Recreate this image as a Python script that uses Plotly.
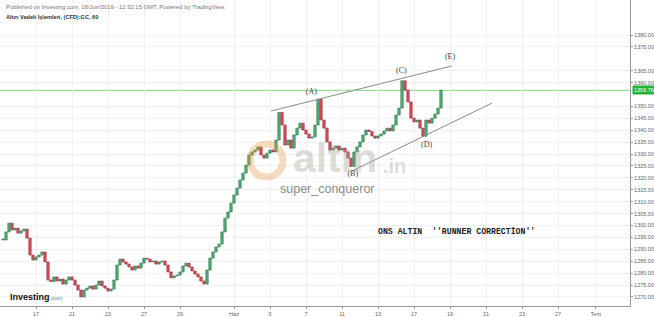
import plotly.graph_objects as go

# ---- data ----
closes = [
    1293.9, 1297.3, 1301.0, 1298.1, 1298.9, 1296.8, 1297.7, 1298.5, 1294.7, 1287.6,
    1285.5, 1286.8, 1287.6, 1288.9, 1284.7, 1277.1, 1276.5, 1278.4, 1276.7, 1277.5,
    1275.4, 1277.1, 1278.4, 1277.1, 1275.0, 1272.9, 1270.0, 1272.9, 1273.7, 1274.6,
    1273.3, 1275.0, 1276.7, 1274.6, 1273.7, 1272.5, 1273.3, 1277.1, 1283.4, 1285.9,
    1284.7, 1283.8, 1282.6, 1281.3, 1283.0, 1282.1, 1284.2, 1286.3, 1285.9, 1284.7,
    1285.1, 1283.8, 1284.7, 1285.1, 1283.4, 1280.5, 1278.0, 1278.8, 1279.2, 1280.5,
    1283.0, 1284.2, 1282.6, 1280.9, 1279.6, 1278.4, 1276.7, 1275.4, 1281.3, 1286.3,
    1288.9, 1291.0, 1292.2, 1297.3, 1303.1, 1305.7, 1309.4, 1312.8, 1315.7, 1319.1,
    1322.0, 1325.4, 1329.6, 1330.9, 1331.7, 1333.0, 1329.6, 1328.3, 1330.4, 1331.7,
    1330.9, 1335.9, 1347.5, 1342.2, 1333.8, 1335.9, 1332.5, 1338.0, 1340.9, 1343.0,
    1340.1, 1338.4, 1336.7, 1337.2, 1342.2, 1353.0, 1344.3, 1340.9, 1335.1, 1331.7,
    1332.5, 1333.4, 1331.7, 1332.5, 1330.9, 1328.3, 1324.8, 1330.9, 1333.0, 1335.1,
    1338.0, 1340.1, 1339.5, 1337.6, 1336.7, 1337.6, 1338.4, 1339.7, 1340.9, 1339.7,
    1342.2, 1346.4, 1349.3, 1360.8, 1356.9, 1351.9, 1345.1, 1343.5, 1344.3, 1340.9,
    1337.5, 1344.3, 1343.0, 1345.1, 1346.8, 1349.3, 1356.76,
]
start_day = -11 / 6
bars_per_day = 6

tick_days = [0, 2, 4, 6, 8, 11, 13, 15, 17, 19, 21, 23, 25, 27, 29, 31.1]
tick_labels = ["17", "21", "23", "27", "29", "Haz", "5", "7", "11", "13",
               "17", "19", "21", "23", "27", "Tem"]

price_ticks = [1380, 1375, 1365, 1360, 1350, 1345, 1340, 1335, 1330, 1325,
               1320, 1315, 1310, 1305, 1300, 1295, 1290, 1285, 1280, 1275, 1270]
current_price = 1356.76

upper_x = [13.06, 23.1]
upper_y = [1348.1, 1367.0]
lower_x = [17.56, 25.33]
lower_y = [1322.9, 1351.4]

wave_labels = ["(A)", "(B)", "(C)", "(D)", "(E)"]
wave_x = [15.3, 17.6, 20.3, 21.7, 23.0]
wave_y = [1356.1, 1321.6, 1364.9, 1333.8, 1370.8]

# ---- derived candle bodies ----
days = [start_day + i / bars_per_day for i in range(len(closes))]
opens = [closes[0]] + closes[:-1]
body_low = [min(o, c) for o, c in zip(opens, closes)]
body_h = [max(abs(c - o), 0.4) for o, c in zip(opens, closes)]
up = [c >= o for o, c in zip(opens, closes)]
fill = ["#4fb27a" if u else "#e0505c" for u in up]
edge = ["#2a6e44" if u else "#8a2a30" for u in up]

fig = go.Figure()
fig.add_trace(go.Bar(
    x=days, y=body_h, base=body_low, width=0.8 / bars_per_day,
    marker=dict(color=fill, line=dict(color=edge, width=0.6)),
    showlegend=False, hoverinfo="skip",
))
fig.add_trace(go.Scatter(x=upper_x, y=upper_y, mode="lines",
                         line=dict(color="#8a8a8a", width=1), showlegend=False))
fig.add_trace(go.Scatter(x=lower_x, y=lower_y, mode="lines",
                         line=dict(color="#8a8a8a", width=1), showlegend=False))
fig.add_trace(go.Scatter(x=wave_x, y=wave_y, mode="text", text=wave_labels,
                         textfont=dict(family="Liberation Serif", size=8, color="#444"),
                         showlegend=False))

W, H = 630, 306  # plot area in px


def px(xp):
    return xp / W


def py(yp):
    return 1 - yp / H


fig.add_shape(type="line", xref="paper", x0=0, x1=1, yref="y",
              y0=current_price, y1=current_price,
              line=dict(color="#7fd67f", width=1), layer="below")
fig.add_shape(type="circle", xref="paper", yref="paper",
              x0=px(250), x1=px(283), y0=py(177), y1=py(144),
              line=dict(color="rgba(225,150,70,0.35)", width=7), layer="above")

ann = []


def note(x, y, text, font, **kw):
    d = dict(x=x, y=y, xref="paper", yref="paper", text=text, showarrow=False,
             xanchor="center", yanchor="middle", font=font)
    d.update(kw)
    ann.append(d)


ann.append(dict(x=1, xref="paper", y=current_price, yref="y", xanchor="left",
                yanchor="middle", text="1356.76", showarrow=False, bgcolor="#1fb33a",
                font=dict(size=5.5, color="white", family="Liberation Sans"),
                borderpad=1, xshift=2))
note(px(4), py(7),
     "Published on Investing.com, 18/Jun/2019 - 12:32:15 GMT, Powered by TradingView.",
     dict(size=5.9, color="#777", family="Liberation Sans"), xanchor="left")
note(px(4), py(17), "<b>Altın Vadeli İşlemleri, (CFD):GC, 60</b>",
     dict(size=5.6, color="#333", family="Liberation Sans"), xanchor="left")
note(px(8), py(297),
     "<b>Investing</b><span style='font-size:6px;color:#777'>.com</span>",
     dict(size=9, color="#111", family="Liberation Sans"), xanchor="left")
note(px(335), py(158), "<b>altın</b>",
     dict(size=41, color="rgba(170,160,150,0.38)", family="Liberation Sans"))
note(px(394), py(166), "<b>.in</b>",
     dict(size=20, color="rgba(170,160,150,0.38)", family="Liberation Sans"))
note(px(327), py(189), "super_conqueror",
     dict(size=12.5, color="#8a8a8a", family="Liberation Sans"))
note(px(456), py(231), "<b>ONS ALTIN  ''RUNNER CORRECTİON''</b>",
     dict(size=8.2, color="#222", family="Liberation Mono"))

fig.update_layout(
    width=654, height=317,
    margin=dict(l=0, r=24, t=0, b=11),
    paper_bgcolor="white", plot_bgcolor="white",
    annotations=ann, showlegend=False,
    xaxis=dict(range=[-2, 33], tickvals=tick_days, ticktext=tick_labels,
               tickfont=dict(size=5.5, color="#666", family="Liberation Sans"),
               showgrid=True, gridcolor="#f1f1f4", showline=True, linecolor="#9a9a9a",
               ticks="outside", ticklen=2, tickcolor="#9a9a9a", zeroline=False),
    yaxis=dict(range=[1266.2, 1394.7], side="right", tickvals=price_ticks,
               ticktext=[f"{v:.2f}" for v in price_ticks],
               tickfont=dict(size=5.5, color="#666", family="Liberation Sans"),
               showgrid=True, gridcolor="#f1f1f4", showline=True, linecolor="#9a9a9a",
               ticks="outside", ticklen=2, tickcolor="#9a9a9a", zeroline=False),
)

fig.write_html("out.html")
